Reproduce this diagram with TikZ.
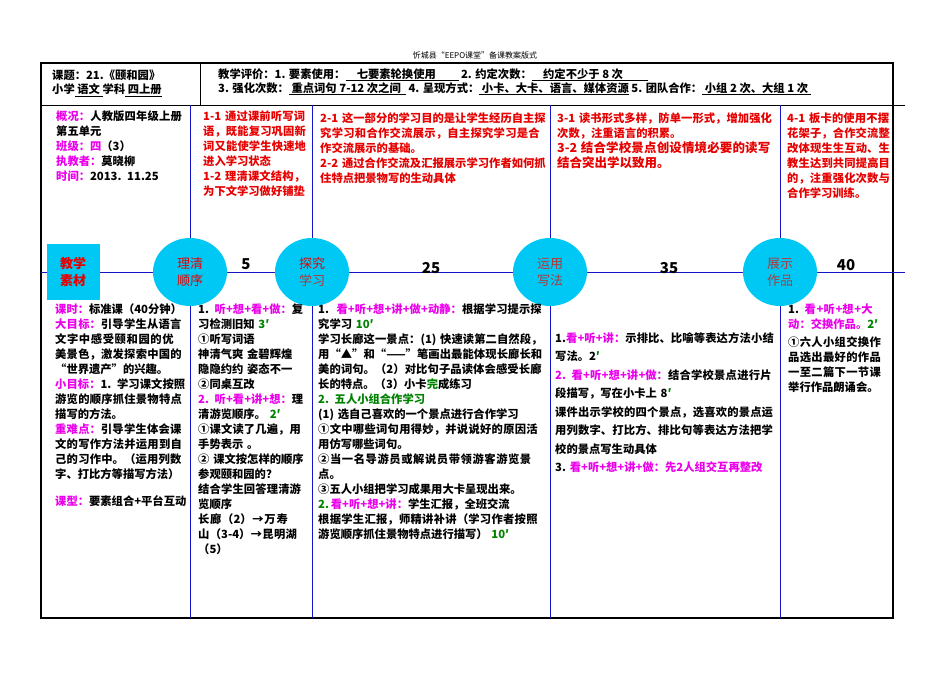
\documentclass[tikz,border=0pt]{standalone}
\usepackage{fontspec}
\setmainfont{Noto Sans CJK SC}
\XeTeXlinebreaklocale "zh"
\XeTeXlinebreakskip=0pt plus 1pt
\usepackage{tikz}
\usetikzlibrary{positioning}
\usetikzlibrary{shapes.geometric}
\definecolor{mgt}{RGB}{235,0,235}
\definecolor{rdt}{RGB}{230,0,0}
\definecolor{grt}{RGB}{0,130,0}
\definecolor{bln}{RGB}{20,20,200}
\definecolor{cyf}{RGB}{0,200,245}
\definecolor{brt}{RGB}{170,60,60}
\newcommand{\mgx}[1]{\textcolor{mgt}{#1}}
\newcommand{\grx}[1]{\textcolor{grt}{#1}}

\begin{document}
\begin{tikzpicture}[x=1pt,y=-1pt,
	cell/.style={anchor=north west, inner sep=0pt, align=left, font=\fontsize{11.3}{15}\selectfont\bfseries},
	stage/.style={ellipse, fill=cyf, minimum width=74pt, minimum height=68pt, inner sep=0pt, align=center, font=\fontsize{13}{17}\selectfont},
	tick/.style={font=\fontsize{15}{15}\selectfont\bfseries}]
	\useasboundingbox (0,0) rectangle (950,672);
	\node[font=\fontsize{8}{8}\selectfont] (title) at (475,55) {忻城县“EEPO课堂”备课教案版式};

	% frame
	\draw[line width=1.6pt] (41,63) rectangle (893,618);
	\draw[line width=0.8pt] (41,105) -- (905,105);
	\draw[line width=0.8pt] (200,63) -- (200,105);
	\foreach \cx in {190,312,550,780}
		\draw[bln, line width=1pt] (\cx,105) -- (\cx,618);
	\draw[bln, line width=1pt] (41,272) -- (905,272);

	% header
	\node[cell, font=\fontsize{11.3}{14}\selectfont\bfseries] (subj) at (52,70) {课题：21.《颐和园》\\小学\underline{ 语文 }学科\underline{ 四上册}};
	\node[cell, font=\fontsize{11.3}{14}\selectfont\bfseries] (eval) at (218,68) {教学评价：1. 要素使用：\underline{\quad 七要素轮换使用\qquad} 2. 约定次数：\underline{\quad 约定不少于 8 次\qquad\ }\\3. 强化次数：\underline{\ 重点词句 7-12 次之间\ \ } 4. 呈现方式：\underline{\ 小卡、大卡、语言、媒体资源} 5. 团队合作：\underline{\ 小组 2 次、大组 1 次\ }};

	% goals row
	\node[cell, text width=130pt] (info) at (56,111) {\mgx{概况：}人教版四年级上册第五单元\\\mgx{班级：四}（3）\\\mgx{执教者：}莫晓柳\\\mgx{时间：}2013. 11.25};
	\node[cell, text width=106pt, text=rdt] (goal1) at (203,111) {1-1 通过课前听写词语，既能复习巩固新词又能使学生快速地进入学习状态\\1-2 理清课文结构，为下文学习做好铺垫};
	\node[cell, text width=226pt, text=rdt] (goal2) at (320,113) {2-1 这一部分的学习目的是让学生经历自主探究学习和合作交流展示，自主探究学习是合作交流展示的基础。\\2-2 通过合作交流及汇报展示学习作者如何抓住特点把景物写的生动具体};
	\node[cell, text width=216pt, text=rdt] (goal3) at (557,113) {3-1 读书形式多样，防单一形式，增加强化次数，注重语言的积累。\\{\fontsize{12.5}{15}\selectfont 3-2 结合学校景点创设情境必要的读写结合突出学以致用。}};
	\node[cell, text width=106pt, text=rdt] (goal4) at (787,113) {4-1 板卡的使用不摆花架子，合作交流整改体现生生互动、生教生达到共同提高目的，注重强化次数与合作学习训练。};

	% stage line
	\node[fill=cyf, minimum width=53pt, minimum height=56pt, inner sep=0pt, align=center, text=rdt, font=\fontsize{13}{17}\selectfont\bfseries] (mat) at (73,272) {教学\\素材};
	\node[stage, text=rdt] (st1) at (190,272) {理清\\顺序};
	\node[stage, text=rdt] (st2) at (312,272) {探究\\\textcolor{brt}{学习}};
	\node[stage, text=brt] (st3) at (550,272) {运用\\写法};
	\node[stage, text=brt] (st4) at (780,272) {展示\\作品};
	\node[tick] (t1) at (246,264) {5};
	\node[tick] (t2) at (431,268) {25};
	\node[tick] (t3) at (669,268) {35};
	\node[tick] (t4) at (846,265) {40};

	% process row
	\node[cell, text width=132pt] (plan) at (55,304) {\mgx{课时：}标准课（40分钟）\\\mgx{大目标：}引导学生从语言文字中感受颐和园的优美景色，激发探索中国的“世界遗产”的兴趣。\\\mgx{小目标：}1. 学习课文按照游览的顺序抓住景物特点描写的方法。\\\mgx{重难点：}引导学生体会课文的写作方法并运用到自己的习作中。（运用列数字、打比方等描写方法）\\[12pt]\mgx{课型：}要素组合+平台互动};
	\node[cell, text width=106pt] (proc1) at (198,304) {1. \mgx{听+想+看+做：}复习检测旧知 \grx{3′}\\①听写词语\\神清气爽 金碧辉煌\\隐隐约约 姿态不一\\②同桌互改\\\mgx{2. 听+看+讲+想：}理清游览顺序。 \grx{2′}\\①课文读了几遍，用手势表示 。\\② 课文按怎样的顺序参观颐和园的？\\结合学生回答理清游览顺序\\长廊（2）→万寿山（3-4）→昆明湖（5）};
	\node[cell, text width=226pt] (proc2) at (318,304) {1.\ \ \mgx{看+听+想+讲+做+动静：}根据学习提示探究学习 \grx{10′}\\学习长廊这一景点：(1) 快速读第二自然段，用“▲”和“——”笔画出最能体现长廊长和美的词句。（2）对比句子品读体会感受长廊长的特点。（3）小卡\grx{完}成练习\\\grx{2. 五人小组合作学习}\\(1) 选自己喜欢的一个景点进行合作学习\\①文中哪些词句用得妙，并说说好的原因活用仿写哪些词句。\\②当一名导游员或解说员带领游客游览景点。\\③五人小组把学习成果用大卡呈现出来。\\\grx{2.}\,\mgx{看+听+想+讲：}学生汇报，全班交流\\根据学生汇报，师精讲补讲（学习作者按照游览顺序抓住景物特点进行描写） \grx{10′}};
	\node[cell, text width=222pt, font=\fontsize{11.3}{18.5}\selectfont\bfseries] (proc3) at (555,332) {1.\mgx{看+听+讲：}示排比、比喻等表达方法小结写法。2\grx{′}\\\mgx{2. 看+听+想+讲+做：}结合学校景点进行片段描写，写在小卡上 8\grx{′}\\课件出示学校的四个景点，选喜欢的景点运用列数字、打比方、排比句等表达方法把学校的景点写生动具体\\3.\ \mgx{看+听+想+讲+做：先2人组交互再整改}};
	\node[cell, text width=100pt] (proc4) at (788,304) {1. \mgx{看+听+想+大动：交换作品。}\grx{2′}\\[3pt]①六人小组交换作品选出最好的作品一至二篇下一节课举行作品朗诵会。};
\end{tikzpicture}
\end{document}
